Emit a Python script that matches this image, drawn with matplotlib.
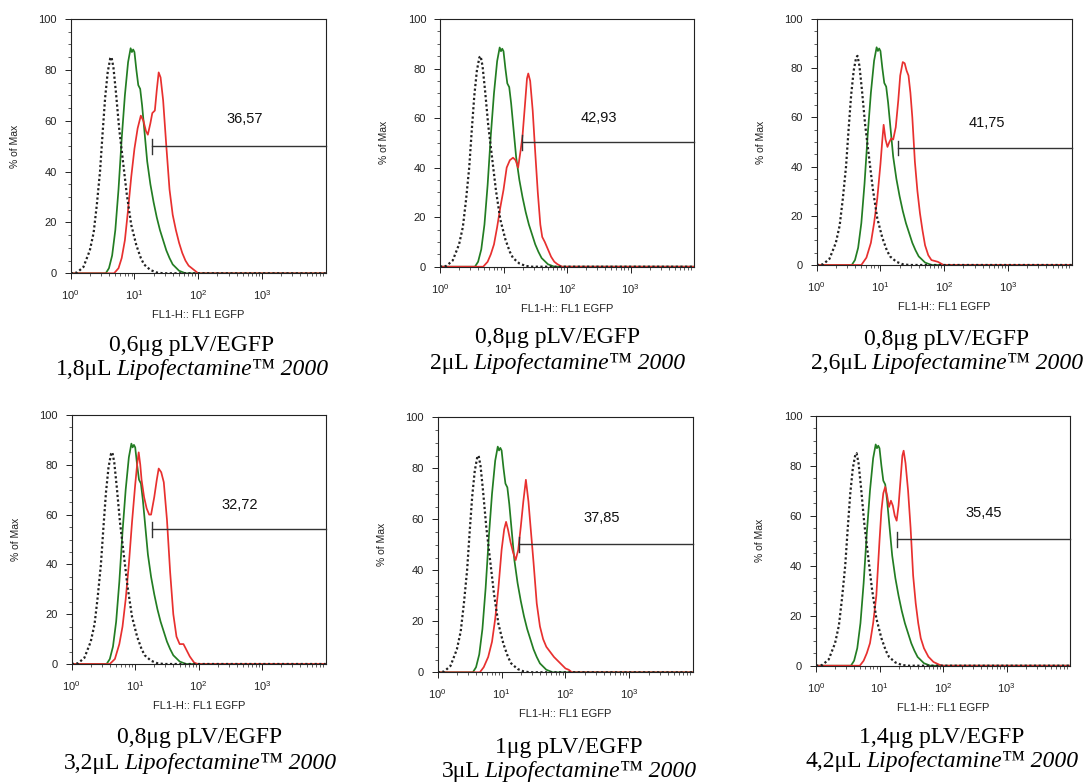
import matplotlib
matplotlib.use("Agg")
import matplotlib.pyplot as plt
import numpy as np
from matplotlib.offsetbox import TextArea, HPacker, AnnotationBbox
from matplotlib.ticker import FixedLocator, LogLocator, NullFormatter, FuncFormatter

plt.rcParams['font.family'] = ['Liberation Sans', 'DejaVu Sans']
plt.rcParams['mathtext.fontset'] = 'custom'
plt.rcParams['mathtext.rm'] = 'Liberation Sans'
plt.rcParams['mathtext.it'] = 'Liberation Sans:italic'
plt.rcParams['mathtext.default'] = 'regular'

# ---------------- data (x given as log10 of FL1 intensity, y as % of max) ----------------
CTRL_LOG = [0.0, 0.1, 0.2, 0.3, 0.36, 0.41, 0.46, 0.5, 0.54, 0.58, 0.62, 0.64, 0.67, 0.71, 0.76,
            0.82, 0.88, 0.95, 1.03, 1.1, 1.15, 1.25, 1.35, 1.45, 4.0]
CTRL_PCT = [0, 0.3, 2.5, 9, 16, 27, 40, 55, 69, 79, 84.5, 85, 81, 71, 57,
            44, 31, 19, 11, 6, 3.5, 1.3, 0.3, 0, 0]

GREEN_LOG = [0.0, 0.55, 0.6, 0.65, 0.7, 0.75, 0.8, 0.85, 0.9, 0.94, 0.96, 0.98, 1.0, 1.03, 1.06,
             1.09, 1.12, 1.16, 1.2, 1.25, 1.3, 1.35, 1.4, 1.45, 1.5, 1.55, 1.6, 1.7, 1.8, 4.0]
GREEN_PCT = [0, 0, 2, 7, 17, 33, 53, 70, 83, 88.5, 87, 88, 87, 80, 74,
             72.5, 66, 55, 44, 35, 28, 22, 17, 13, 9, 6, 3.5, 1, 0, 0]

RED_LOG_1 = [0.0, 0.68, 0.75, 0.8, 0.85, 0.9, 0.95, 1.0, 1.05, 1.1, 1.14, 1.18, 1.21, 1.25, 1.28,
             1.32, 1.35, 1.38, 1.41, 1.45, 1.5, 1.55, 1.6, 1.65, 1.7, 1.75, 1.8, 1.85, 1.9, 1.95, 2.0, 4.0]
RED_PCT_1 = [0, 0, 2, 6, 13, 25, 38, 49, 57, 62, 60, 56, 54.5, 59, 63,
             64, 72, 79, 77, 68, 50, 33, 23, 17, 12, 8, 5, 3, 2, 1, 0, 0]

RED_LOG_2 = [0.0, 0.68, 0.75, 0.8, 0.85, 0.9, 0.95, 1.0, 1.05, 1.1, 1.15, 1.19, 1.23, 1.27, 1.3,
             1.34, 1.37, 1.39, 1.42, 1.46, 1.5, 1.54, 1.58, 1.61, 1.65, 1.7, 1.75, 1.8, 1.85, 1.92, 4.0]
RED_PCT_2 = [0, 0, 2, 5, 9, 16, 24, 31, 40, 43, 44, 43, 40, 47, 53,
             66, 76, 78, 75, 63, 46, 30, 17, 12, 10, 7, 4, 2, 1, 0, 0]

RED_LOG_3 = [0.0, 0.7, 0.78, 0.85, 0.9, 0.95, 1.0, 1.03, 1.05, 1.08, 1.11, 1.14, 1.17, 1.2, 1.24,
             1.28, 1.31, 1.35, 1.38, 1.41, 1.44, 1.47, 1.5, 1.54, 1.58, 1.62, 1.66, 1.7, 1.75, 1.8,
             1.9, 1.99, 4.0]
RED_PCT_3 = [0, 0, 3, 9, 17, 27, 41, 51, 57, 51, 48, 50, 51.5, 51, 56,
             67, 77, 82.5, 82, 79, 77, 70, 60, 42, 30, 21, 14, 8, 4, 2,
             1.3, 0, 0]

RED_LOG_4 = [0.0, 0.6, 0.68, 0.75, 0.8, 0.85, 0.9, 0.95, 1.0, 1.03, 1.055, 1.08, 1.1, 1.14, 1.18,
             1.22, 1.25, 1.3, 1.34, 1.37, 1.41, 1.45, 1.5, 1.55, 1.6, 1.65, 1.7, 1.76, 1.8, 1.86,
             1.93, 1.99, 4.0]
RED_PCT_4 = [0, 0, 2, 8, 15, 26, 40, 57, 72, 80, 85, 80, 74, 67, 62.5,
             60, 60, 67, 74, 78.5, 77, 73, 58, 37, 20, 11, 8, 8, 6, 3,
             0.5, 0, 0]

RED_LOG_5 = [0.0, 0.66, 0.72, 0.79, 0.85, 0.9, 0.95, 1.0, 1.04, 1.07, 1.1, 1.14, 1.18, 1.22, 1.26,
             1.3, 1.34, 1.38, 1.42, 1.46, 1.5, 1.55, 1.6, 1.65, 1.7, 1.76, 1.82, 1.9, 2.0, 2.05, 2.1, 4.0]
RED_PCT_5 = [0, 0, 2, 6, 12, 21, 33, 48, 56, 59, 56, 51, 47, 44, 48,
             57, 67, 75.5, 67, 55, 43, 27, 18, 13, 10, 8, 6, 4, 1.5, 1, 0, 0]

RED_LOG_6 = [0.0, 0.69, 0.75, 0.8, 0.85, 0.9, 0.95, 1.0, 1.03, 1.06, 1.09, 1.12, 1.15, 1.18, 1.21,
             1.24, 1.27, 1.3, 1.33, 1.36, 1.38, 1.41, 1.45, 1.49, 1.53, 1.57, 1.61, 1.65, 1.7, 1.77,
             1.85, 1.95, 2.0, 4.0]
RED_PCT_6 = [0, 0, 2, 5, 9, 17, 28, 50, 62, 69, 71.5, 68, 63.5, 66, 64,
             60, 58, 64, 74, 84, 86, 81, 70, 55, 36, 25, 17, 11, 7, 3.6,
             1.5, 0.3, 0, 0]

RED_LOGS = [RED_LOG_1, RED_LOG_2, RED_LOG_3, RED_LOG_4, RED_LOG_5, RED_LOG_6]
RED_PCTS = [RED_PCT_1, RED_PCT_2, RED_PCT_3, RED_PCT_4, RED_PCT_5, RED_PCT_6]

GATE_LABELS = ["36,57", "42,93", "41,75", "32,72", "37,85", "35,45"]
GATE_Y = [50.0, 50.3, 47.6, 54.2, 50.2, 50.6]
GATE_START_LOG = [1.275, 1.29, 1.28, 1.27, 1.28, 1.28]

DNA_AMOUNT = ["0,6μg", "0,8μg", "0,8μg", "0,8μg", "1μg", "1,4μg"]
LIPO_AMOUNT = ["1,8μL", "2μL", "2,6μL", "3,2μL", "3μL", "4,2μL"]

Y_TICKS = [0, 20, 40, 60, 80, 100]
X_TICKS = [1, 10, 100, 1000]

# ---------------- layout (pixels) ----------------
W, H = 1085, 784
AX_PX = [  # left, right, top, bottom
    (70.7, 325.7, 19, 273.3),
    (440, 694, 19, 266.7),
    (816.7, 1071.7, 19, 265),
    (71.7, 325.7, 415, 664),
    (437.7, 693.3, 417.3, 672.3),
    (816, 1070, 415.7, 665.7),
]
LABEL_POS = [(2.73, 60.5), (2.5, 60), (2.67, 57.7), (2.65, 63.9), (2.57, 60.6), (2.64, 61)]
CAPTION_PX = [(192, 346, 370), (558, 338, 363), (947, 339, 363),
              (200, 738, 763), (569, 747, 772), (942, 737, 762)]

fig = plt.figure(figsize=(W / 100, H / 100), dpi=100)
fig.patch.set_facecolor('white')

GREEN = '#237d23'
RED = '#e8302f'

def sup_fmt(v, pos):
    e = int(round(np.log10(v)))
    return r'$10^{%d}$' % e

for i in range(6):
    l, r, t, b = AX_PX[i]
    ax = fig.add_axes([l / W, 1 - b / H, (r - l) / W, (b - t) / H])
    ax.plot(10 ** np.array(CTRL_LOG), CTRL_PCT, color='#222222', lw=1.6, ls=(0, (1, 1.1)), zorder=3)
    ax.plot(10 ** np.array(GREEN_LOG), GREEN_PCT, color=GREEN, lw=1.25, zorder=2)
    ax.plot(10 ** np.array(RED_LOGS[i]), RED_PCTS[i], color=RED, lw=1.25, zorder=2)
    ax.set_xscale('log')
    ax.set_xlim(1, 1e4)
    ax.set_ylim(0, 100)
    ax.xaxis.set_major_locator(FixedLocator(X_TICKS))
    ax.xaxis.set_major_formatter(FuncFormatter(sup_fmt))
    ax.xaxis.set_minor_locator(LogLocator(base=10, subs=np.arange(2, 10), numticks=20))
    ax.xaxis.set_minor_formatter(NullFormatter())
    ax.set_yticks(Y_TICKS)
    ax.set_yticks(np.arange(0, 101, 5), minor=True)
    ax.tick_params(axis='both', which='major', length=4, width=0.7, labelsize=8, colors='#222222')
    ax.tick_params(axis='both', which='minor', length=2, width=0.6, color='#444444')
    ax.tick_params(axis='x', which='major', pad=7)
    ax.tick_params(axis='y', which='major', pad=6)
    for s in ax.spines.values():
        s.set_linewidth(0.8)
        s.set_color('#222222')
    ax.set_ylabel('% of Max', fontsize=7.5, color='#222222')
    ax.yaxis.set_label_coords(-56 / (r - l), 0.5)
    ax.set_xlabel('FL1-H:: FL1 EGFP', fontsize=8, color='#222222')
    ax.xaxis.set_label_coords(0.5, -42 / (b - t))
    ax.xaxis.label.set_va('center')
    ax.yaxis.label.set_va('center')
    # gate
    gx0 = 10 ** GATE_START_LOG[i]
    gy = GATE_Y[i]
    ax.plot([gx0, 1e4], [gy, gy], color='#333333', lw=1.0, zorder=4, clip_on=False)
    ax.plot([gx0, gx0], [gy - 3, gy + 3], color='#333333', lw=1.0, zorder=4)
    lx, ly = LABEL_POS[i]
    ax.text(10 ** lx, ly, GATE_LABELS[i], fontsize=10.5, ha='center', va='center', color='#111111')

    # caption
    cx, cy1, cy2 = CAPTION_PX[i]
    fig.text(cx / W, 1 - cy1 / H, DNA_AMOUNT[i] + ' pLV/EGFP', family='Liberation Serif',
             fontsize=17, ha='center', va='center', color='black')
    t1 = TextArea(LIPO_AMOUNT[i], textprops=dict(family='Liberation Serif', fontsize=17, color='black'))
    t2 = TextArea('Lipofectamine™ 2000', textprops=dict(family='Liberation Serif', style='italic',
                                                        fontsize=17, color='black'))
    box = HPacker(children=[t1, t2], align='baseline', pad=0, sep=3)
    ab = AnnotationBbox(box, (cx / W, 1 - cy2 / H), xycoords='figure fraction',
                        box_alignment=(0.5, 0.5), frameon=False, pad=0)
    fig.add_artist(ab)

fig.savefig('out.png', dpi=100, facecolor='white')
